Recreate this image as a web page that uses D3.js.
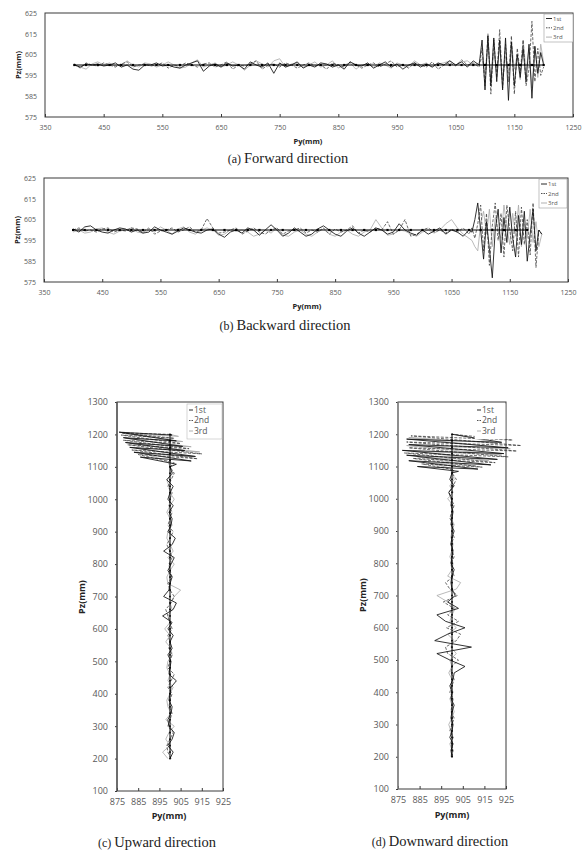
<!DOCTYPE html>
<html>
<head>
<meta charset="utf-8">
<script src="https://cdn.jsdelivr.net/npm/d3@7"></script>
<style>
  body { margin: 0; background: #fff; }
</style>
</head>
<body>
<script>
// ---- data ----
var seriesNames = ["1st", "2nd", "3rd"];

var topXTicks = [350, 450, 550, 650, 750, 850, 950, 1050, 1150, 1250];
var topYTicks = [575, 585, 595, 605, 615, 625];
var bottomXTicks = [875, 885, 895, 905, 915, 925];
var bottomYTicks = [100, 200, 300, 400, 500, 600, 700, 800, 900, 1000, 1100, 1200, 1300];

// reference path markers (Py for a/b, Pz for c/d)
var refTop = [400, 420, 440, 460, 480, 500, 520, 540, 560, 580, 600, 620, 640, 660, 680, 700, 720, 740, 760, 780,
    800, 820, 840, 860, 880, 900, 920, 940, 960, 980, 1000, 1020, 1040, 1060, 1080, 1100, 1120, 1140, 1160, 1180, 1200];
var refBottom = [200, 220, 240, 260, 280, 300, 320, 340, 360, 380, 400, 420, 440, 460, 480, 500, 520, 540, 560, 580,
    600, 620, 640, 660, 680, 700, 720, 740, 760, 780, 800, 820, 840, 860, 880, 900, 920, 940, 960, 980,
    1000, 1020, 1040, 1060, 1080, 1100, 1120, 1140, 1160, 1180, 1200];

// (a) forward
var pyA = [400, 410, 420, 430, 440, 450, 460, 470, 480, 490,
    500, 510, 520, 530, 540, 550, 560, 570, 580, 590,
    600, 610, 620, 630, 640, 650, 660, 670, 680, 690,
    700, 710, 720, 730, 740, 750, 760, 770, 780, 790,
    800, 810, 820, 830, 840, 850, 860, 870, 880, 890,
    900, 910, 920, 930, 940, 950, 960, 970, 980, 990,
    1000, 1010, 1020, 1030, 1040, 1050, 1060, 1070, 1080, 1090,
    1095, 1100, 1105, 1110, 1115, 1120, 1125, 1130, 1135, 1140, 1145,
    1150, 1155, 1160, 1165, 1170, 1175, 1180, 1185, 1190, 1195, 1200];
var a1st = [600, 599, 600.5, 600, 600.5, 599.5, 600, 601, 599, 600,
    598, 597.5, 600, 600, 601, 599.5, 600, 599, 598.5, 600,
    601, 602, 597, 599.5, 600.5, 599, 601, 599.5, 600, 598,
    601.5, 600, 599, 601, 596, 601, 599, 600, 601.5, 598.5,
    600, 599, 601, 600.5, 599, 600, 598, 601.5, 600, 599.5,
    601, 598.5, 600, 601.5, 599, 600.5, 598, 600, 601, 599,
    600.5, 599, 601, 600, 602, 600, 601.5, 599, 602, 600,
    612, 588, 614, 590, 613, 592, 612, 588, 613, 583, 611,
    590, 605, 594, 608, 592, 610, 584, 609, 596, 606, 600];
var a2nd = [600.5, 598.5, 601, 600, 599.5, 601, 600, 599, 600.5, 601.5,
    599, 600, 600.5, 599.5, 600, 601, 598.5, 600, 599.5, 601,
    600, 599, 600.5, 601, 599, 600, 601.5, 598, 600, 599.5,
    600.5, 602, 598, 600, 600.5, 599, 601, 600, 598.5, 600,
    601, 599.5, 600, 598, 601, 600, 599, 601.5, 600, 598.5,
    600, 601, 599, 600.5, 602, 599, 600, 598.5, 601, 600,
    599, 601.5, 598, 600, 601, 599.5, 602.5, 600, 601, 599,
    608, 590, 615, 586, 612, 594, 617, 589, 610, 592, 614,
    586, 608, 596, 612, 590, 598, 621, 592, 608, 595, 599];
var a3rd = [600, 599, 598, 600.5, 601.5, 600, 601, 599.5, 600, 602,
    600, 599, 601, 600.5, 599, 600, 601.5, 600, 598.5, 599,
    601, 602.5, 599, 600, 601, 599, 600, 601.5, 600, 597.5,
    600, 602, 600.5, 599, 602, 603, 599, 600.5, 601, 599,
    600, 601.5, 599, 600, 602, 598.5, 600, 601, 598, 600,
    600.5, 599, 601, 600, 598.5, 601, 600, 599.5, 602, 600,
    601, 599, 600.5, 601, 602, 600, 601.5, 602, 600, 601,
    603, 596, 610, 592, 606, 597, 609, 593, 604, 596, 611,
    598, 605, 593, 612, 597, 608, 589, 609, 594, 610, 601];

// (b) backward
var pyB = [400, 410, 420, 430, 440, 450, 460, 470, 480, 490,
    500, 510, 520, 530, 540, 550, 560, 570, 580, 590,
    600, 610, 620, 630, 640, 650, 660, 670, 680, 690,
    700, 710, 720, 730, 740, 750, 760, 770, 780, 790,
    800, 810, 820, 830, 840, 850, 860, 870, 880, 890,
    900, 910, 920, 930, 940, 950, 960, 970, 980, 990,
    1000, 1010, 1020, 1030, 1040, 1050, 1060, 1070, 1080,
    1085, 1090, 1095, 1100, 1105, 1110, 1115, 1120, 1125, 1130, 1135, 1140, 1145,
    1150, 1155, 1160, 1165, 1170, 1175, 1180, 1185, 1190, 1195, 1200, 1205];
var b1st = [600.5, 599, 601.5, 602, 600, 599, 598.5, 600, 601, 600.5,
    599, 600, 598.5, 599, 601.5, 600, 599, 598, 599.5, 601,
    600, 599, 598.5, 600, 600.5, 598, 596.5, 599, 600, 598.5,
    601, 600, 597.5, 600, 602.5, 600, 597, 598.5, 601, 599,
    597, 598, 600.5, 602, 600, 598, 597, 599.5, 601, 598.5,
    597, 599, 601, 600, 598, 599, 603, 600, 598.5, 597.5,
    600, 598, 599.5, 601, 598, 600, 599, 597, 600,
    599, 605, 613, 600, 586, 604, 591, 577, 600, 610, 589, 606, 594,
    611, 596, 587, 607, 593, 609, 585, 598, 610, 590, 600, 598];
var b2nd = [600, 601, 599.5, 600, 599, 600.5, 601, 599, 600, 599.5,
    601, 600.5, 599, 601, 598, 599.5, 600, 601, 599, 600,
    601.5, 599, 600, 605.5, 601, 598.5, 599, 600, 601, 598,
    599.5, 601, 599, 598, 600, 601, 598, 599.5, 600, 601,
    598.5, 600, 599, 601, 598, 600.5, 599, 600, 602, 598.5,
    600, 599, 601, 600, 604, 598, 600, 605, 597, 598,
    600, 601, 599, 600, 598.5, 600.5, 599, 601, 598,
    601, 596, 603, 612, 590, 608, 583, 602, 613, 595, 608, 587, 612,
    600, 590, 609, 587, 611, 593, 605, 588, 613, 582, 600, 598];
var b3rd = [599, 600, 598.5, 599, 600.5, 601, 599, 598, 599.5, 600,
    601, 599, 598.5, 600, 599, 601.5, 600, 598, 600.5, 601.5,
    599, 598, 600, 601, 600, 597.5, 598, 600, 599.5, 600,
    599, 597, 598, 600, 598.5, 601, 597.5, 597, 599, 600,
    598, 597, 599, 600.5, 598, 597, 599, 600, 598, 597,
    599, 600, 605, 601, 597.5, 598, 600, 599.5, 598, 597,
    599, 600, 598.5, 600, 603, 605, 601, 598, 596,
    595, 592, 590, 603, 609, 598, 610, 592, 606, 600, 596, 612, 601,
    593, 608, 597, 612, 592, 603, 596, 610, 594, 604, 592, 598];

// (c) upward: Pz shared for the steady part, then each run's zigzag at the top
var pzC = [200, 220, 240, 260, 280, 300, 320, 340, 360, 380,
    400, 420, 440, 460, 480, 500, 520, 540, 560, 580,
    600, 620, 640, 660, 680, 700, 720, 740, 760, 780,
    800, 820, 840, 860, 880, 900, 920, 940, 960, 980,
    1000, 1020, 1040, 1060, 1080, 1100];
var c1Py = [900, 901.5, 899, 901, 902, 899.5, 899, 900.5, 901, 899.5,
    900, 900.5, 903, 899.5, 900, 900.5, 899, 901, 900, 901.5,
    899, 901, 896.5, 901.5, 903, 897, 899.5, 900, 901, 899,
    900.5, 902, 897, 901, 902.5, 899, 900.5, 901, 899.5, 901.5,
    899, 900, 901.5, 898.5, 901, 900];
var c1TopPz = [1108, 1130, 1118, 1145, 1132, 1160, 1150, 1175, 1163, 1190, 1180, 1207, 1198, 1200];
var c1TopPy = [903, 886, 910, 883, 912, 881, 907, 879, 906, 878, 903, 876, 901, 900];
var c2Py = [900.5, 899, 898.5, 900, 901.5, 899, 900, 901, 899.5, 900,
    901, 899, 900.5, 902, 899, 900, 901, 899.5, 900, 899,
    901, 900, 899, 898, 900.5, 902, 900, 899, 901, 900,
    899.5, 901, 900, 898.5, 900, 901.5, 899, 900, 901, 899.5,
    900, 901, 899, 900.5, 902, 900];
var c2TopPz = [1112, 1138, 1125, 1152, 1140, 1168, 1156, 1182, 1172, 1198, 1188, 1205, 1200];
var c2TopPy = [902, 885, 913, 882, 915, 880, 909, 878, 905, 877, 902, 877, 900];
var c3Py = [899, 896.5, 900, 898, 899.5, 902, 898, 900.5, 899, 898.5,
    900, 901.5, 899, 900, 898.5, 899, 901, 900.5, 898, 900,
    897.5, 900, 899, 901, 900, 902, 905, 899, 898.5, 900,
    902, 899, 901.5, 900, 898.5, 899, 901, 900, 898.5, 900,
    902, 900, 899.5, 898.5, 901.5, 900];
var c3TopPz = [1118, 1142, 1130, 1158, 1146, 1172, 1162, 1188, 1178, 1203, 1194, 1200];
var c3TopPy = [899, 887, 911, 884, 914, 881, 910, 879, 906, 878, 904, 900];

// (d) downward
var pzD = [200, 220, 240, 260, 280, 300, 320, 340, 360, 380,
    400, 420, 440, 460, 480, 500, 520, 540, 560, 580,
    600, 620, 640, 660, 680, 700, 720, 740, 760, 780,
    800, 820, 840, 860, 880, 900, 920, 940, 960, 980,
    1000, 1020, 1040, 1060, 1080];
var d1Py = [900, 899.5, 900.5, 899, 900, 900.5, 899.5, 900, 901, 899.5,
    900, 899, 900.5, 901, 906, 899, 893, 909, 892, 898,
    906, 897, 893, 903, 898, 901.5, 900, 899.5, 900, 901,
    899.5, 900, 900.5, 899.5, 900, 901, 899.5, 900, 900.5, 899.5,
    900, 898.5, 901, 899, 900];
var d1TopPz = [1085, 1100, 1092, 1118, 1105, 1135, 1122, 1150, 1140, 1168, 1158, 1185, 1175, 1200];
var d1TopPy = [903, 884, 912, 880, 918, 879, 921, 877, 924, 880, 926, 879, 923, 900];
var d2Py = [900, 900.5, 899.5, 900.5, 899, 900, 901, 899.5, 900, 900.5,
    899, 900, 901, 899.5, 900, 903, 898, 897, 902, 904,
    897.5, 903, 898, 901, 896, 902.5, 899, 897, 901, 900,
    899.5, 901, 900, 899.5, 901, 900, 900.5, 899, 900, 901,
    899.5, 898.5, 900.5, 902, 900];
var d2TopPz = [1090, 1108, 1098, 1125, 1112, 1142, 1130, 1158, 1148, 1176, 1165, 1195, 1182, 1200];
var d2TopPy = [901, 886, 914, 882, 920, 878, 926, 880, 930, 879, 932, 881, 928, 900];
var d3Py = [899.5, 900, 899, 900.5, 899.5, 898.5, 900, 901, 900, 899,
    900.5, 899.5, 900, 898.5, 900, 899, 902, 899.5, 901, 898,
    902, 899, 900, 901.5, 898, 893, 902, 904, 898, 900,
    900.5, 899, 900, 900.5, 899.5, 900, 901, 899.5, 900, 900.5,
    898, 900.5, 899, 901, 900];
var d3TopPz = [1095, 1112, 1102, 1130, 1118, 1148, 1136, 1165, 1155, 1190, 1172, 1200];
var d3TopPy = [899, 889, 911, 884, 917, 882, 923, 879, 927, 880, 921, 901];

// ---- styles ----
var lineStyle = {
    "1st": { stroke: "#111", dash: null, width: 0.85 },
    "2nd": { stroke: "#3c3c3c", dash: "3,1.5", width: 0.75 },
    "3rd": { stroke: "#a8a8a8", dash: null, width: 0.8 }
};
var tickColor = "#595959";
var frameColor = "#3a3a3a";

var svg = d3.select("body").append("svg")
    .attr("width", 584)
    .attr("height", 851);

function drawPanel(p) {
    var g = svg.append("g");
    var x = d3.scaleLinear().domain(p.xDomain).range([p.left, p.right]);
    var y = d3.scaleLinear().domain(p.yDomain).range([p.bottom, p.top]);

    var xa = g.append("g")
        .attr("transform", "translate(0," + p.bottom + ")")
        .call(d3.axisBottom(x).tickValues(p.xTicks).tickSizeInner(-3).tickSizeOuter(0)
            .tickPadding(p.xPad).tickFormat(d3.format("d")));
    xa.select(".domain").remove();
    xa.selectAll("line").attr("stroke", frameColor);
    xa.selectAll("text").attr("fill", tickColor)
        .style("font-family", "'Open Sans', sans-serif").style("font-size", p.tickSize + "px");

    var ya = g.append("g")
        .attr("transform", "translate(" + p.left + ",0)")
        .call(d3.axisLeft(y).tickValues(p.yTicks).tickSizeInner(p.yTick).tickSizeOuter(0)
            .tickPadding(p.yPad).tickFormat(d3.format("d")));
    ya.select(".domain").remove();
    ya.selectAll("line").attr("stroke", frameColor);
    ya.selectAll("text").attr("fill", tickColor)
        .style("font-family", "'Open Sans', sans-serif").style("font-size", p.tickSize + "px");

    var line = d3.line()
        .x(function(d) { return x(d[0]); })
        .y(function(d) { return y(d[1]); });

    // runs drawn back to front
    p.series.slice().reverse().forEach(function(s) {
        var st = lineStyle[s.name];
        g.append("path")
            .datum(s.pts)
            .attr("d", line)
            .attr("fill", "none")
            .attr("stroke", st.stroke)
            .attr("stroke-width", st.width)
            .attr("stroke-dasharray", st.dash)
            .attr("stroke-linejoin", "round");
    });

    // planned path with markers
    g.append("path")
        .datum(p.ref)
        .attr("d", line)
        .attr("fill", "none")
        .attr("stroke", "#000")
        .attr("stroke-width", 1);
    g.selectAll("rect.mark")
        .data(p.ref)
        .enter().append("rect")
        .attr("class", "mark")
        .attr("x", function(d) { return x(d[0]) - p.mark / 2; })
        .attr("y", function(d) { return y(d[1]) - p.mark / 2; })
        .attr("width", p.mark)
        .attr("height", p.mark)
        .attr("fill", "#000");

    // frame
    g.append("rect")
        .attr("x", p.left).attr("y", p.top)
        .attr("width", p.right - p.left).attr("height", p.bottom - p.top)
        .attr("fill", "none")
        .attr("stroke", frameColor)
        .attr("stroke-width", 1);
    if (p.leftAxisColor) {
        g.append("line")
            .attr("x1", p.left).attr("x2", p.left)
            .attr("y1", p.top).attr("y2", p.bottom)
            .attr("stroke", p.leftAxisColor).attr("stroke-width", 1.3);
    }

    // legend
    var L = p.legend;
    g.append("rect")
        .attr("x", L.x).attr("y", L.y).attr("width", L.w).attr("height", L.h)
        .attr("fill", "#fff").attr("stroke", L.border).attr("stroke-width", 0.6);
    seriesNames.forEach(function(name, i) {
        var st = lineStyle[name];
        var ly = L.y + L.first + i * L.step;
        g.append("line")
            .attr("x1", L.x + 2).attr("x2", L.x + 2 + L.sample)
            .attr("y1", ly).attr("y2", ly)
            .attr("stroke", st.stroke).attr("stroke-width", 0.9)
            .attr("stroke-dasharray", st.dash ? "1.5,1" : null);
        g.append("text")
            .attr("x", L.x + 3 + L.sample).attr("y", ly)
            .attr("dy", "0.35em")
            .attr("fill", "#555")
            .style("font-family", "'Open Sans', sans-serif")
            .style("font-size", L.font + "px")
            .text(name);
    });

    // axis titles
    g.append("text")
        .attr("x", p.xTitle[0]).attr("y", p.xTitle[1])
        .attr("text-anchor", "middle")
        .attr("font-weight", "bold")
        .attr("fill", "#222")
        .style("font-family", "'Open Sans', sans-serif")
        .style("font-size", p.titleSize + "px")
        .text("Py(mm)");
    g.append("text")
        .attr("transform", "translate(" + p.yTitle[0] + "," + p.yTitle[1] + ") rotate(-90)")
        .attr("text-anchor", "middle")
        .attr("dy", "0.35em")
        .attr("font-weight", "bold")
        .attr("fill", "#222")
        .style("font-family", "'Open Sans', sans-serif")
        .style("font-size", p.titleSize + "px")
        .text("Pz(mm)");

    // caption
    var cap = g.append("text")
        .attr("x", p.caption[0]).attr("y", p.caption[1])
        .attr("text-anchor", "middle")
        .attr("fill", "#222")
        .style("font-family", "'Liberation Serif', 'Times New Roman', serif");
    cap.append("tspan").style("font-size", "12px").text(p.caption[2] + "  ");
    cap.append("tspan").style("font-size", "14.5px").text(p.caption[3]);
}

var topRuns = function(px, s1, s2, s3) {
    return [
        { name: "1st", pts: d3.zip(px, s1) },
        { name: "2nd", pts: d3.zip(px, s2) },
        { name: "3rd", pts: d3.zip(px, s3) }
    ];
};
var sideRun = function(name, py, pz, topPy, topPz) {
    return { name: name, pts: d3.zip(py, pz).concat(d3.zip(topPy, topPz)) };
};

drawPanel({
    left: 45, right: 573, top: 13, bottom: 117,
    xDomain: [350, 1250], yDomain: [575, 625],
    xTicks: topXTicks, yTicks: topYTicks,
    xPad: 8, yPad: 8, yTick: 0, tickSize: 7, mark: 2.2,
    series: topRuns(pyA, a1st, a2nd, a3rd),
    ref: refTop.map(function(v) { return [v, 600]; }),
    legend: { x: 544, y: 14, w: 29, h: 28, first: 4.5, step: 9.3, sample: 6, font: 6, border: "#999" },
    xTitle: [308, 144], yTitle: [18, 65], titleSize: 7.5,
    caption: [288, 163, "(a)", "Forward direction"]
});

drawPanel({
    left: 44, right: 568, top: 178, bottom: 282,
    xDomain: [350, 1250], yDomain: [575, 625],
    xTicks: topXTicks, yTicks: topYTicks,
    xPad: 8, yPad: 8, yTick: 0, tickSize: 7, mark: 2.2,
    series: topRuns(pyB, b1st, b2nd, b3rd),
    ref: refTop.filter(function(v) { return v <= 1180; }).map(function(v) { return [v, 600]; }),
    legend: { x: 539, y: 179, w: 28, h: 29, first: 5, step: 9.5, sample: 6, font: 6, border: "#999" },
    xTitle: [307, 309], yTitle: [17, 230], titleSize: 7.5,
    caption: [285, 330, "(b)", "Backward direction"]
});

drawPanel({
    left: 117, right: 223, top: 402, bottom: 791,
    xDomain: [875, 925], yDomain: [100, 1300],
    xTicks: bottomXTicks, yTicks: bottomYTicks,
    xPad: 8, yPad: 7, yTick: 2, tickSize: 9, mark: 1.6,
    series: [
        sideRun("1st", c1Py, pzC, c1TopPy, c1TopPz),
        sideRun("2nd", c2Py, pzC, c2TopPy, c2TopPz),
        sideRun("3rd", c3Py, pzC, c3TopPy, c3TopPz)
    ],
    ref: refBottom.map(function(v) { return [900, v]; }),
    legend: { x: 187, y: 404, w: 35, h: 35, first: 6, step: 10.5, sample: 4, font: 8.5, border: "#bbb" },
    xTitle: [169, 819], yTitle: [82, 597], titleSize: 9,
    caption: [157, 847, "(c)", "Upward direction"],
    leftAxisColor: "#555"
});

drawPanel({
    left: 398, right: 506, top: 402, bottom: 789,
    xDomain: [875, 925], yDomain: [100, 1300],
    xTicks: bottomXTicks, yTicks: bottomYTicks,
    xPad: 8, yPad: 7, yTick: 2, tickSize: 9, mark: 1.6,
    series: [
        sideRun("1st", d1Py, pzD, d1TopPy, d1TopPz),
        sideRun("2nd", d2Py, pzD, d2TopPy, d2TopPz),
        sideRun("3rd", d3Py, pzD, d3TopPy, d3TopPz)
    ],
    ref: refBottom.map(function(v) { return [900, v]; }),
    legend: { x: 475, y: 404, w: 30, h: 35, first: 6, step: 10.5, sample: 4, font: 8.5, border: "#fff" },
    xTitle: [452, 818], yTitle: [363, 595], titleSize: 9,
    caption: [440, 846, "(d)", "Downward direction"],
    leftAxisColor: "#888"
});
</script>
</body>
</html>
